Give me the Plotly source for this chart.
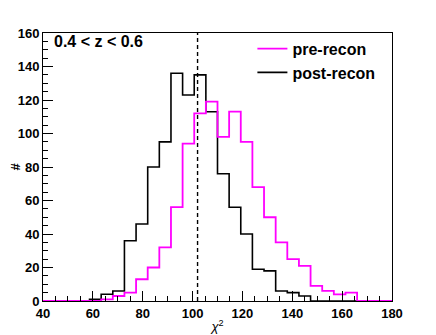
import numpy as np
import plotly.graph_objects as go

# histogram binning: 30 bins from 40 to 180
x_min, x_max, n_bins = 40, 180, 30
edges = np.linspace(x_min, x_max, n_bins + 1)

pre_recon = [0, 0, 0, 0, 0, 1, 3, 5, 13, 20,
             32, 56, 94, 112, 119, 98, 113, 95, 68, 50,
             35, 25, 21, 9, 6, 4, 5, 0, 0, 0]
post_recon = [0, 0, 0, 0, 1, 4, 6, 36, 46, 80,
              95, 136, 123, 135, 113, 76, 56, 40, 19, 18,
              6, 5, 3, 0, 0, 0, 0, 0, 0, 0]

chi2_ref = 102
label_z = "0.4 < z < 0.6"
font = "Liberation Sans, Arial, sans-serif"


def step_xy(values):
    """x/y arrays for an hv step outline of a histogram."""
    return list(edges), list(values) + [values[-1]]


fig = go.Figure()

xs, ys = step_xy(post_recon)
fig.add_trace(go.Scatter(x=xs, y=ys, mode="lines", line_shape="hv",
                         line=dict(color="black", width=1.6),
                         name="post-recon", legendrank=2))
xs, ys = step_xy(pre_recon)
fig.add_trace(go.Scatter(x=xs, y=ys, mode="lines", line_shape="hv",
                         line=dict(color="#ff00ff", width=1.8),
                         name="pre-recon", legendrank=1))

# dashed reference line
fig.add_trace(go.Scatter(x=[chi2_ref, chi2_ref], y=[0, 160], mode="lines",
                         line=dict(color="black", width=1.4, dash="4px,3px"),
                         showlegend=False, hoverinfo="skip"))

fig.add_annotation(text=label_z, xref="paper", yref="paper", x=0.025, y=0.968,
                   xanchor="left", yanchor="middle", showarrow=False,
                   font=dict(family=font, size=16, color="black", weight="bold"))

axis_common = dict(showline=True, linecolor="black", linewidth=1, mirror=True,
                   ticks="inside", ticklen=10, tickcolor="black", showgrid=False,
                   zeroline=False, automargin=False,
                   tickfont=dict(family=font, size=13, color="black", weight="bold"),
                   minor=dict(ticks="inside", ticklen=5, dtick=5, tickcolor="black",
                              showgrid=False))

fig.update_xaxes(range=[x_min, x_max], dtick=20, tick0=0,
                 title=dict(text="<i>χ</i><sup>2</sup>", standoff=2,
                            font=dict(family=font, size=13, color="black")),
                 **axis_common)
fig.update_yaxes(range=[0, 160], dtick=20, tick0=0,
                 title=dict(text="#", standoff=16,
                            font=dict(family=font, size=13, color="black", weight="bold")),
                 **axis_common)

# page body has an 8px margin, so the figure is a bit smaller than the window
fig.update_layout(
    width=428, height=327,
    margin=dict(l=35, r=44, t=25, b=34),
    paper_bgcolor="white", plot_bgcolor="white",
    legend=dict(x=0.6, y=1.005, xanchor="left", yanchor="top",
                bgcolor="rgba(0,0,0,0)", borderwidth=0,
                font=dict(family=font, size=16, color="black", weight="bold")),
)

fig.write_html("out.html")
